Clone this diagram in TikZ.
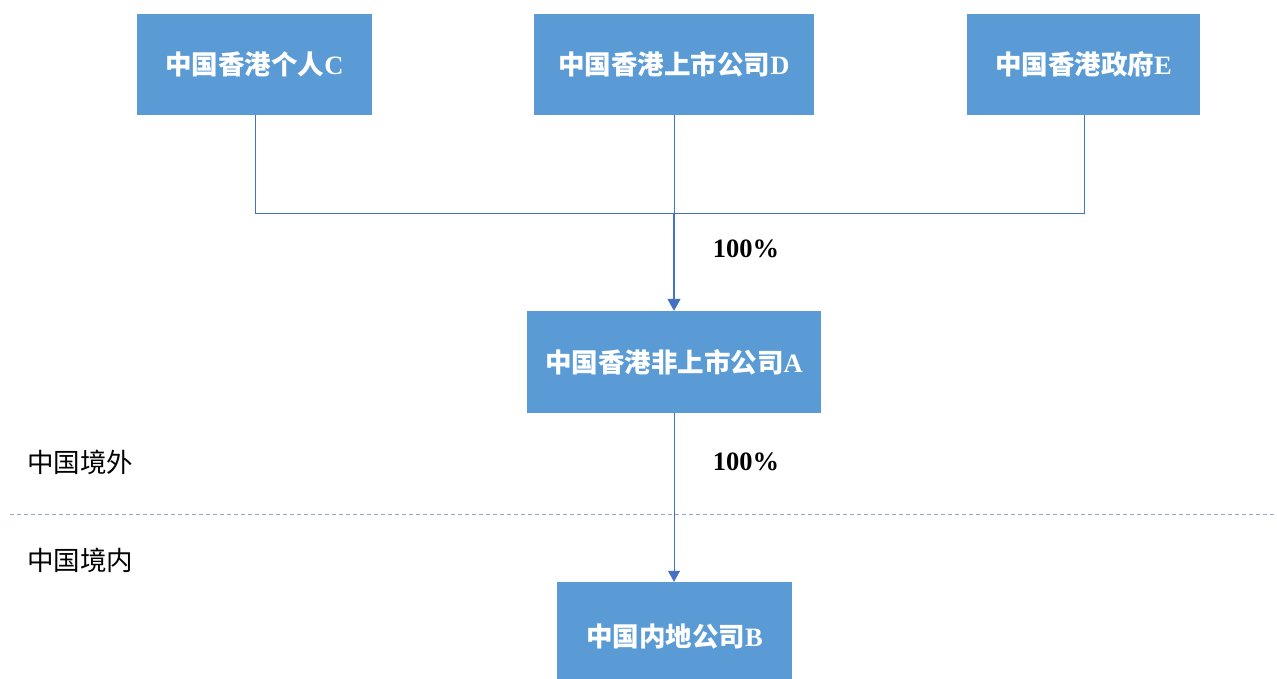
\documentclass[tikz,border=0pt]{standalone}
\usepackage{fontspec}
\setmainfont{Liberation Serif}
\newfontfamily\cjk{Noto Sans CJK SC}
\usetikzlibrary{arrows.meta}
\definecolor{boxblue}{HTML}{5B9BD5}
\definecolor{linkblue}{HTML}{4472C4}
\definecolor{dashblue}{HTML}{8EA9DB}
\begin{document}
\begin{tikzpicture}[x=1pt,y=-1pt,
  entity/.style={fill=boxblue,draw=none,text=white,minimum height=101pt,inner sep=0pt,
    font=\fontsize{26.5}{30}\selectfont\bfseries},
  link/.style={draw=linkblue,line width=1pt},
  arr/.style={draw=linkblue,line width=1.6pt,-{Triangle[width=13pt,length=12pt]}},
  pct/.style={font=\fontsize{26.5}{30}\selectfont\bfseries,text=black},
  region/.style={font=\fontsize{26.5}{30}\selectfont\cjk,text=black,anchor=west,inner sep=0pt}]
\useasboundingbox (0,0) rectangle (1277,678);
\node[entity,minimum width=235pt] (C) at (254.5,64.5) {{\cjk 中国香港个人}C};
\node[entity,minimum width=280pt] (D) at (674,64.5) {{\cjk 中国香港上市公司}D};
\node[entity,minimum width=233pt] (E) at (1083.5,64.5) {{\cjk 中国香港政府}E};
\node[entity,minimum width=294pt,minimum height=102pt] (A) at (674,362) {{\cjk 中国香港非上市公司}A};
\node[entity,minimum width=235pt,minimum height=108pt] (B) at (674.5,636) {{\cjk 中国内地公司}B};
\coordinate (J) at (674,213);
\coordinate (JC) at (255,213);
\coordinate (JE) at (1084,213);
\draw[link] (C.south -| JC) -- (JC) -- (JE) -- (E.south -| JE);
\draw[link] (D.south) -- (J);
\draw[arr] (J) -- (A.north);
\draw[link,-{Triangle[width=12pt,length=11pt]}] (A.south) -- (B.north -| A.south);
\node[pct] (p1) at (746,249) {100\%};
\node[pct] (p2) at (746,462) {100\%};
\coordinate (dl) at (10,514);
\coordinate (dr) at (1277,514);
\draw[dashblue,line width=1pt,dash pattern=on 4pt off 3pt] (dl) -- (dr);
\node[region] (out) at (27,462) {中国境外};
\node[region] (in) at (27,560) {中国境内};
\end{tikzpicture}
\end{document}
